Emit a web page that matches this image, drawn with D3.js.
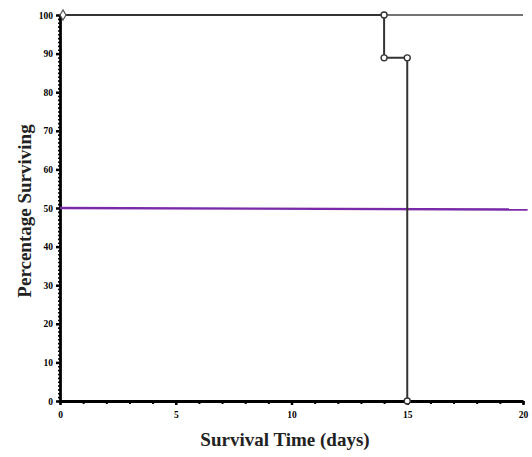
<!DOCTYPE html>
<html>
<head>
<meta charset="utf-8" />
<title>Survival curve</title>
<script src="https://d3js.org/d3.v7.min.js"></script>
<style>
    body { margin: 0; background: #fff; font-family: "Liberation Serif", "Times New Roman", serif; }
    .tick text { font-family: "Liberation Serif", serif; font-weight: bold; font-size: 9.5px; }
    .label { font-family: "Liberation Serif", serif; font-weight: bold; font-size: 19px; fill: #222; }
</style>
</head>
<body>
<svg id="chart" width="532" height="457"></svg>
<script>

// data
var xTicks = [0, 5, 10, 15, 20];
var yTicks = [0, 10, 20, 30, 40, 50, 60, 70, 80, 90, 100];

// group that never died
var allTimes = [0, 20];
var allSurv = [100, 100];

// group dying between day 14 and 15
var stepTimes = [0, 14, 14, 15, 15];
var stepSurv = [100, 100, 88.9, 88.9, 0];
var markTimes = [14, 14, 15, 15];
var markSurv = [100, 88.9, 88.9, 0];

// 50 % reference line
var medTimes = [0, 20.2];
var medSurv = [50, 49.6];

var svg = d3.select("#chart");

var x = d3.scaleLinear().domain([0, 20]).range([60, 523]);
var y = d3.scaleLinear().domain([0, 100]).range([401, 15]);

// minor ticks every unit
var xAxisMinor = d3.axisBottom(x).tickValues(d3.range(0, 21, 1)).tickSize(3).tickFormat("");
var yAxisMinor = d3.axisLeft(y).tickValues(d3.range(0, 101, 1)).tickSize(2).tickFormat("");

svg.append("g")
    .attr("transform", "translate(0," + y(0) + ")")
    .call(xAxisMinor)
    .call(function(g){ g.select(".domain").remove(); })
    .selectAll("line").attr("stroke", "#000").attr("stroke-width", 2);

svg.append("g")
    .attr("transform", "translate(" + x(0) + ",0)")
    .call(yAxisMinor)
    .call(function(g){ g.select(".domain").remove(); })
    .selectAll("line").attr("stroke", "#000").attr("stroke-width", 1.6);

// major axes
var xAxis = d3.axisBottom(x).tickValues(xTicks).tickSize(4).tickPadding(6).tickSizeOuter(0);
var yAxis = d3.axisLeft(y).tickValues(yTicks).tickSize(4).tickPadding(3).tickSizeOuter(0);

var gx = svg.append("g")
    .attr("transform", "translate(0," + y(0) + ")")
    .call(xAxis);
gx.select(".domain").attr("stroke-width", 2.8);
gx.selectAll(".tick line").attr("stroke-width", 2.5);

var gy = svg.append("g")
    .attr("transform", "translate(" + x(0) + ",0)")
    .call(yAxis);
gy.select(".domain").attr("stroke-width", 2.8);
gy.selectAll(".tick line").attr("stroke-width", 2.5);

var line = d3.line()
    .x(function(d){ return x(d[0]); })
    .y(function(d){ return y(d[1]); });

// purple 50 % line
svg.append("path")
    .datum(d3.zip(medTimes, medSurv))
    .attr("d", line)
    .attr("fill", "none")
    .attr("stroke", "#7a2aa8")
    .attr("stroke-width", 2.4);

// flat line at 100
svg.append("path")
    .datum(d3.zip(allTimes, allSurv))
    .attr("d", line)
    .attr("fill", "none")
    .attr("stroke", "#444")
    .attr("stroke-width", 1.7);

// step curve
svg.append("path")
    .datum(d3.zip(stepTimes, stepSurv))
    .attr("d", line)
    .attr("fill", "none")
    .attr("stroke", "#333")
    .attr("stroke-width", 2);

// censor markers
svg.selectAll(".mark")
    .data(d3.zip(markTimes, markSurv))
    .enter()
    .append("circle")
    .attr("class", "mark")
    .attr("cx", function(d){ return x(d[0]); })
    .attr("cy", function(d){ return y(d[1]); })
    .attr("r", 3)
    .attr("fill", "#fff")
    .attr("stroke", "#333")
    .attr("stroke-width", 1.4);

// small symbol at the origin of the top line
svg.append("path")
    .attr("d", d3.symbol().type(d3.symbolDiamond).size(30))
    .attr("transform", "translate(" + (x(0) + 3) + "," + y(100) + ")")
    .attr("fill", "#fff")
    .attr("stroke", "#555")
    .attr("stroke-width", 1.2);

// axis labels
svg.append("text")
    .attr("class", "label")
    .attr("text-anchor", "middle")
    .attr("x", 285)
    .attr("y", 446)
    .text("Survival Time (days)");

svg.append("text")
    .attr("class", "label")
    .attr("text-anchor", "middle")
    .attr("transform", "translate(31,211) rotate(-90)")
    .text("Percentage Surviving");

</script>
</body>
</html>
